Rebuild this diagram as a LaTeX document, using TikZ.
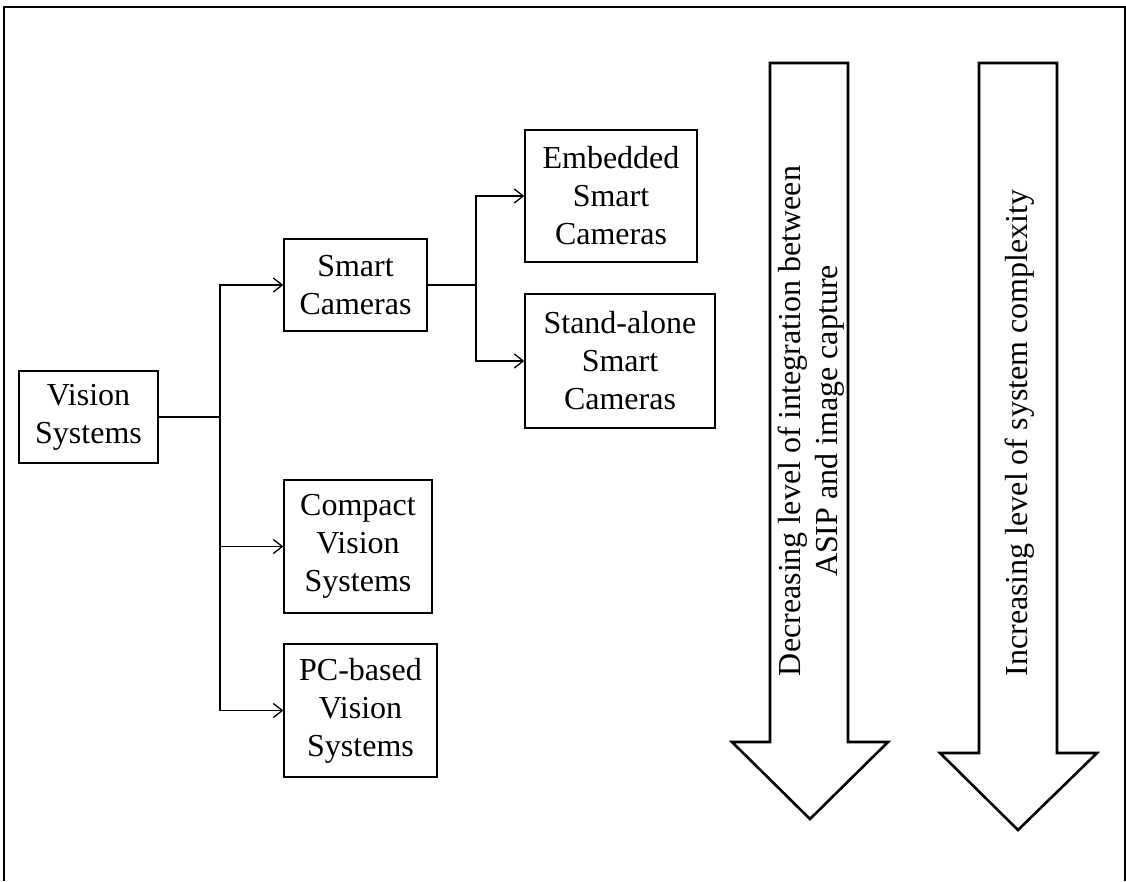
\documentclass[tikz,border=0pt]{standalone}
\usepackage{fontspec}
\setmainfont{Liberation Serif}
\usetikzlibrary{arrows.meta}
\begin{document}
\begin{tikzpicture}[x=1pt,y=-1pt,
    box/.style={draw,line width=1.3pt,align=center,inner sep=2pt,
      font=\fontsize{32}{38}\selectfont},
    sidetext/.style={align=center,inner sep=0pt,rotate=90,
      font=\fontsize{32}{37}\selectfont},
    bigarrow/.style={draw,line width=2.6pt,line join=miter},
    >={Straight Barb[length=9pt,width=14pt]}]
  \useasboundingbox (0,0) rectangle (1126,881);
  % frame, open at the bottom
  \draw[line width=2pt] (4,881) -- (4,7) -- (1125,7) -- (1125,881);
  % boxes
  \node[box,minimum width=139pt,minimum height=92pt] (vis) at (88.5,417) {Vision\\Systems};
  \node[box,minimum width=143pt,minimum height=92pt] (smart) at (355.5,285) {Smart\\Cameras};
  \node[box,minimum width=172pt,minimum height=132pt] (emb) at (611,196) {Embedded\\Smart\\Cameras};
  \node[box,minimum width=190pt,minimum height=134pt] (stand) at (620,361) {Stand-alone\\Smart\\Cameras};
  \node[box,minimum width=148pt,minimum height=133pt] (comp) at (358,546.5) {Compact\\Vision\\Systems};
  \node[box,minimum width=153pt,minimum height=133pt] (pc) at (360.5,710.5) {PC-based\\Vision\\Systems};
  \coordinate (j1) at (vis.east -| 220,0);
  \coordinate (j2) at (smart.east -| 476,0);
  \begin{scope}[line width=1.3pt]
    \draw (vis.east) -- (j1);
    \draw[->] (j1) |- (smart.west);
    \draw[->] (j1) |- (comp.west);
    \draw[->] (j1) |- (pc.west);
    \draw (smart.east) -- (j2);
    \draw[->] (j2) |- (emb.west);
    \draw[->] (j2) |- (stand.west);
  \end{scope}
  % big arrows
  \draw[bigarrow] (770,63) -- (848,63) -- (848,742) -- (888,742) -- (810,819)
    -- (732,742) -- (770,742) -- cycle;
  \draw[bigarrow] (979,63) -- (1057,63) -- (1057,753) -- (1097,753) -- (1018,830)
    -- (940,753) -- (979,753) -- cycle;
  \node[sidetext] (dec) at (811,421) {Decreasing level of integration between\\ASIP and image capture};
  \node[sidetext] (inc) at (1020,433) {Increasing level of system complexity};
\end{tikzpicture}
\end{document}
